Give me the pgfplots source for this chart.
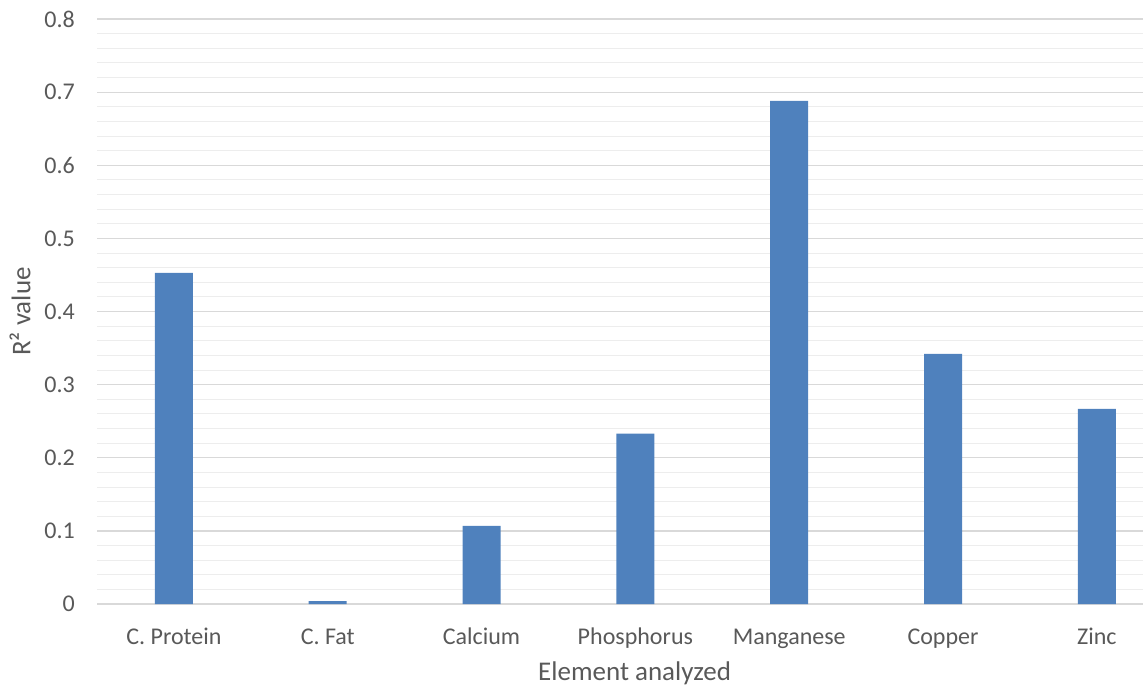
\documentclass[border=0pt]{standalone}
\usepackage{pgfplots}
\pgfplotsset{compat=1.18}
\usepackage{fontspec}
\setmainfont{Carlito}
\definecolor{barblue}{HTML}{4F81BD}
\definecolor{txtgray}{HTML}{595959}
\definecolor{majgrid}{HTML}{D9D9D9}
\definecolor{mingrid}{HTML}{EDEDED}
\begin{document}
\begin{tikzpicture}
\begin{axis}[
  name=ax,
  scale only axis,
  width=1046bp, height=585bp,
  ymin=0, ymax=0.8,
  xmin=-0.5, xmax=6.3,
  ytick={0,0.1,...,0.8},
  minor y tick num=4,
  ymajorgrids, yminorgrids,
  major grid style={majgrid, line width=1.2bp},
  minor grid style={mingrid, line width=1bp},
  axis line style={draw=none},
  tick style={draw=none},
  xtick=data,
  xticklabels={C. Protein, C. Fat, Calcium, Phosphorus, Manganese, Copper, Zinc},
  /pgf/number format/assume math mode=true,
  yticklabel style={/pgf/number format/fixed, /pgf/number format/precision=1},
  tick label style={font=\fontsize{24bp}{28bp}\selectfont, text=txtgray, inner sep=0pt},
  xticklabel style={anchor=base, yshift=-40bp},
  yticklabel style={anchor=east, xshift=-22bp},
  xlabel={Element analyzed},
  ylabel={R² value},
  label style={font=\fontsize{27bp}{31bp}\selectfont, text=txtgray},
  xlabel style={at={(axis description cs:0.514,-0.1299)}, anchor=base, inner sep=0pt},
  ylabel style={at={(axis description cs:-0.0736,0.5)}, anchor=center},
  clip=false,
]
\addplot[ybar, bar width=38bp, fill=barblue, draw=none] coordinates {
  (0,0.453) (1,0.004) (2,0.107) (3,0.233) (4,0.688) (5,0.342) (6,0.267)
};
\end{axis}
\pgfresetboundingbox
\path[use as bounding box] ([xshift=-97bp,yshift=-82bp]ax.south west) rectangle ([xshift=1bp,yshift=19bp]ax.north east);
\end{tikzpicture}
\end{document}
